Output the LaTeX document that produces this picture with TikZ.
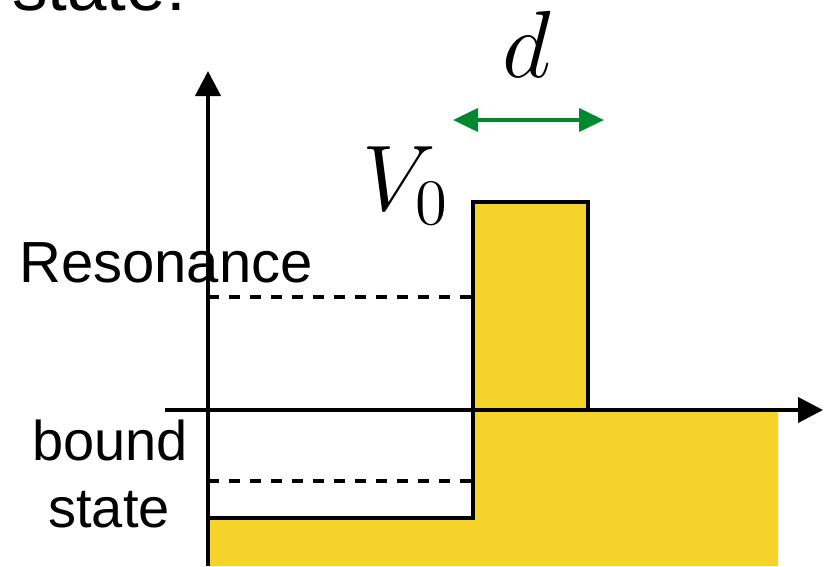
\documentclass[tikz,border=0pt]{standalone}
\usepackage{fontspec}
\setmainfont{Liberation Sans}
\usetikzlibrary{arrows.meta}
\definecolor{wellyellow}{RGB}{245,211,42}
\definecolor{dgreen}{RGB}{0,137,47}
\begin{document}
\begin{tikzpicture}[x=1pt,y=-1pt,
  axis/.style={line width=4pt,-{Triangle[length=25pt,width=25pt]}},
  outline/.style={line width=4pt,line join=miter},
  level/.style={line width=4pt,dash pattern=on 11pt off 10pt},
  lbl/.style={inner sep=0pt,font=\fontsize{56}{60}\selectfont},
  mathlbl/.style={inner sep=0pt,font=\fontsize{20}{24}\selectfont}]
\useasboundingbox (0,0) rectangle (827,566);
% yellow potential
\fill[wellyellow] (208,518) -- (473,518) -- (473,202) -- (588,202) -- (588,410) -- (778,410) -- (778,566) -- (208,566) -- cycle;
% levels
\coordinate (resL) at (208,297);
\coordinate (resR) at (473,297);
\coordinate (bndL) at (208,481);
\coordinate (bndR) at (473,481);
\draw[level] (resL) -- (resR);
\draw[level] (bndL) -- (bndR);
% potential outline
\coordinate (w0) at (208,518);
\coordinate (w1) at (473,518);
\coordinate (w2) at (473,202);
\coordinate (w3) at (588,202);
\coordinate (w4) at (588,410);
\draw[outline] (w0) -- (w1) -- (w2) -- (w3) -- (w4);
% axes
\coordinate (yb) at (208,566);
\coordinate (yt) at (208,71);
\coordinate (xl) at (165,410);
\coordinate (xr) at (823,410);
\draw[axis] (yb) -- (yt);
\draw[axis] (xl) -- (xr);
% width arrow
\coordinate (dl) at (453,120);
\coordinate (dr) at (604,120);
\draw[line width=4pt,dgreen,{Triangle[length=25pt,width=23pt]}-{Triangle[length=25pt,width=23pt]}] (dl) -- (dr);
% labels
\node[inner sep=0pt,anchor=base west,font=\fontsize{71}{75}\selectfont] (title) at (12,10) {state:};
\node[lbl,anchor=base west,font=\fontsize{58}{62}\selectfont] (res) at (19,282) {Resonance};
\node[lbl,anchor=base] (bound) at (110,460) {bound};
\node[lbl,anchor=base] (state) at (109,527) {state};
\node[mathlbl,anchor=base west] (v0) at (362,210) {\scalebox{4.5}{$V_0$}};
\node[mathlbl,anchor=base] (d) at (527,77) {\scalebox{4.6}{$d$}};
\end{tikzpicture}
\end{document}
